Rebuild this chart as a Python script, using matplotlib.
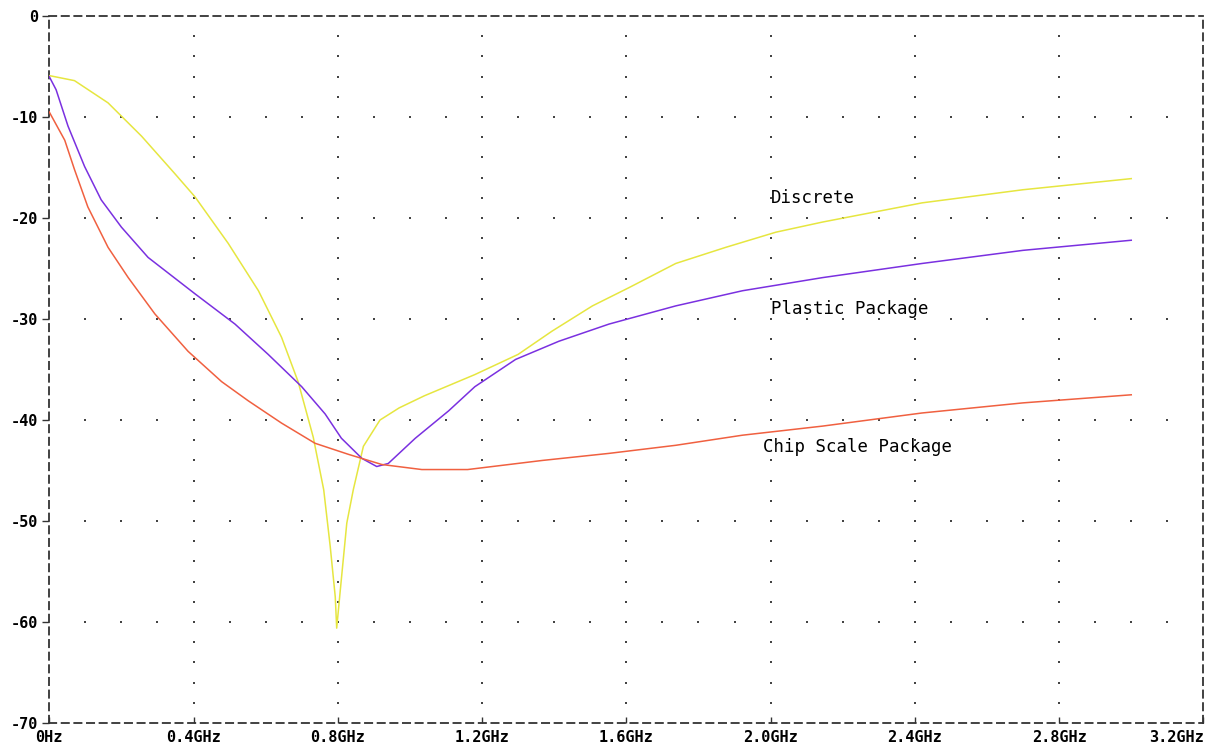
import matplotlib as mpl
mpl.use('Agg')
import matplotlib.pyplot as plt
import numpy as np

# frequency (GHz) / magnitude (dB)
f_discrete = [0, 0.07, 0.163, 0.256, 0.348, 0.404, 0.496, 0.58, 0.644, 0.69, 0.732,
              0.761, 0.779, 0.793, 0.797, 0.806, 0.825, 0.843, 0.871, 0.917, 0.97,
              1.04, 1.10, 1.18, 1.30, 1.394, 1.506, 1.607, 1.737, 1.876, 2.015,
              2.144, 2.42, 2.70, 3.0]
db_discrete = [-5.9, -6.4, -8.6, -11.9, -15.6, -17.9, -22.5, -27.2, -31.8, -36.2, -41.7,
               -46.9, -52.5, -57.5, -60.6, -57.2, -50.2, -46.9, -42.6, -40.0, -38.8,
               -37.6, -36.7, -35.5, -33.5, -31.2, -28.7, -26.9, -24.5, -22.9, -21.4,
               -20.4, -18.5, -17.2, -16.1]

f_plastic = [0, 0.019, 0.052, 0.098, 0.144, 0.2, 0.274, 0.404, 0.515, 0.607, 0.7,
             0.765, 0.81, 0.867, 0.908, 0.94, 1.015, 1.107, 1.18, 1.293, 1.413,
             1.552, 1.737, 1.922, 2.144, 2.42, 2.70, 3.0]
db_plastic = [-6.0, -7.3, -10.9, -14.9, -18.2, -20.9, -23.9, -27.5, -30.5, -33.5, -36.7,
              -39.4, -41.8, -43.8, -44.6, -44.3, -41.8, -39.1, -36.7, -34.0, -32.2,
              -30.5, -28.7, -27.2, -25.9, -24.5, -23.2, -22.2]

f_chip = [0, 0.043, 0.07, 0.107, 0.163, 0.219, 0.293, 0.385, 0.478, 0.552, 0.644,
          0.737, 0.83, 0.922, 1.033, 1.16, 1.367, 1.552, 1.737, 1.922, 2.144, 2.42,
          2.70, 3.0]
db_chip = [-9.5, -12.3, -15.2, -18.9, -22.9, -25.9, -29.5, -33.2, -36.2, -38.1, -40.3,
           -42.3, -43.4, -44.4, -44.9, -44.9, -44.0, -43.3, -42.5, -41.5, -40.6, -39.3,
           -38.3, -37.5]

xticks = [0, 0.4, 0.8, 1.2, 1.6, 2.0, 2.4, 2.8, 3.2]
xlabels = ['0Hz', '0.4GHz', '0.8GHz', '1.2GHz', '1.6GHz', '2.0GHz', '2.4GHz', '2.8GHz', '3.2GHz']
yticks = [0, -10, -20, -30, -40, -50, -60, -70]

fig = plt.figure(figsize=(12.07, 7.47), dpi=100)
ax = fig.add_axes([0.0408, 0.032, 0.9562, 0.9466])
ax.set_xlim(0, 3.2)
ax.set_ylim(-70, 0)

# PSpice style dotted grid
for gx in xticks[1:-1]:
    ys = np.arange(-68, 0, 2)
    ax.scatter(np.full(len(ys), gx), ys, s=1.2, marker='s', color='#444444', lw=0, zorder=1)
for gy in yticks[1:-1]:
    xs = np.arange(1, 32) / 10.0
    ax.scatter(xs, np.full(len(xs), gy), s=1.2, marker='s', color='#444444', lw=0, zorder=1)

ax.plot(f_discrete, db_discrete, color='#e6e640', lw=1.1, zorder=3)
ax.plot(f_plastic, db_plastic, color='#7a30e0', lw=1.1, zorder=3)
ax.plot(f_chip, db_chip, color='#f06040', lw=1.1, zorder=3)

mono = 'DejaVu Sans Mono'
ax.text(2.0, -18.0, 'Discrete', fontsize=12.5, family=mono, va='center', ha='left')
ax.text(2.0, -29.0, 'Plastic Package', fontsize=12.5, family=mono, va='center', ha='left')
ax.text(1.98, -42.7, 'Chip Scale Package', fontsize=12.5, family=mono, va='center', ha='left')

for s in ax.spines.values():
    s.set_linestyle((0, (4, 3)))
    s.set_linewidth(1.3)
    s.set_color('#333333')

ax.set_xticks(xticks)
ax.set_xticklabels(xlabels, family=mono, fontweight='bold', fontsize=11)
ax.get_xticklabels()[-1].set_ha('right')
ax.set_yticks(yticks)
ax.set_yticklabels([str(v) for v in yticks], family=mono, fontweight='bold', fontsize=11)
ax.tick_params(axis='x', direction='in', length=4, width=1, color='#333333', pad=5)
ax.tick_params(axis='y', direction='out', length=5, width=1, color='#333333', pad=3)

plt.savefig('out.png', dpi=100)
